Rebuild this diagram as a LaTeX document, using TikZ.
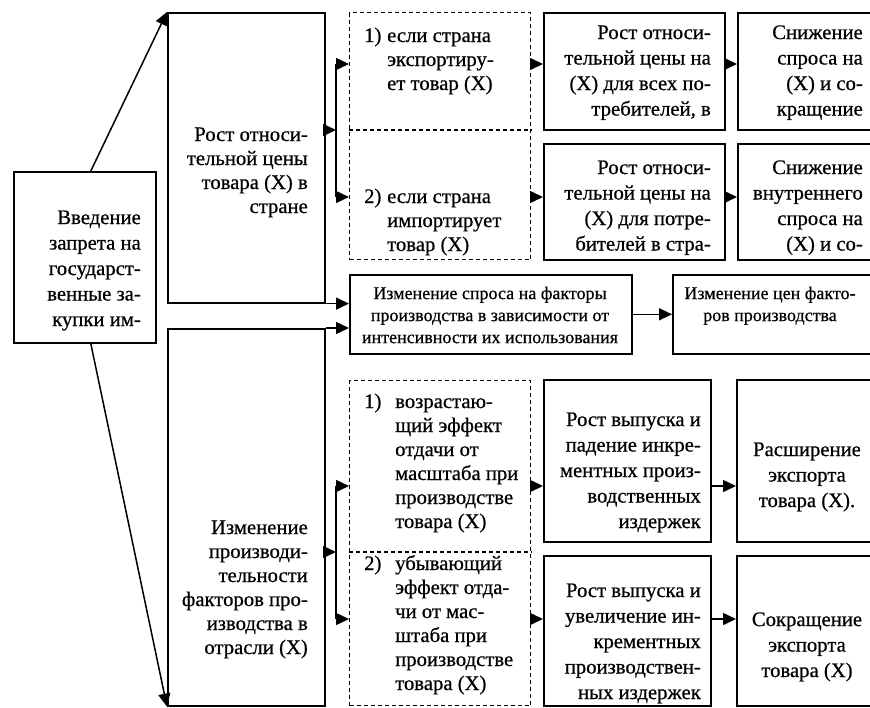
\documentclass[tikz,border=0pt]{standalone}
\usepackage{fontspec}
\setmainfont{Liberation Serif}[FakeBold=0.6]
\usetikzlibrary{arrows.meta, calc}

\begin{document}
\begin{tikzpicture}[
        x=1pt, y=-1pt,
        caja/.style={
            rectangle,
            draw,
            line width=1.6pt,
            inner sep=0pt,
            anchor=north west
        },
        cajadash/.style={
            caja,
            line width=1.3pt,
            dash pattern=on 4pt off 3pt
        },
        texto/.style={
            inner sep=0pt,
            font=\fontsize{20.7}{24}\selectfont
        },
        textoalto/.style={
            inner sep=0pt,
            font=\fontsize{20.7}{25.5}\selectfont
        },
        textochico/.style={
            inner sep=0pt,
            font=\fontsize{18}{22}\selectfont
        },
        flecha/.style={
            -{Triangle[length=13pt, width=12pt]},
            line width=1.5pt
        },
        linea/.style={
            line width=1.5pt
        }
    ]

    \useasboundingbox (0,0) rectangle (870,707);
    \clip (0,0) rectangle (870,707);

    % cajas
    \node[caja, minimum width=142pt, minimum height=171pt] (intro) at (13,171) {};
    \node[caja, minimum width=157pt, minimum height=290pt] (rise) at (167,12) {};
    \node[caja, minimum width=157pt, minimum height=377pt] (chg) at (167,328) {};

    \node[cajadash, minimum width=181pt, minimum height=247pt] (cond1) at (349,12) {};
    \node[caja, minimum width=181pt, minimum height=117pt] (cena1) at (543,12) {};
    \node[caja, minimum width=181pt, minimum height=116pt] (cena2) at (543,143) {};
    \node[caja, minimum width=200pt, minimum height=117pt] (snizh1) at (737,12) {};
    \node[caja, minimum width=200pt, minimum height=116pt] (snizh2) at (737,143) {};

    \node[caja, minimum width=282pt, minimum height=79pt] (spros) at (349,274) {};
    \node[caja, minimum width=220pt, minimum height=79pt] (ceny) at (672,274) {};

    \node[cajadash, minimum width=181pt, minimum height=325pt] (cond2) at (349,380) {};
    \node[caja, minimum width=167pt, minimum height=162pt] (vyp1) at (543,379) {};
    \node[caja, minimum width=167pt, minimum height=150pt] (vyp2) at (543,555) {};
    \node[caja, minimum width=200pt, minimum height=162pt] (rassh) at (736,379) {};
    \node[caja, minimum width=200pt, minimum height=150pt] (sokr) at (736,555) {};

    % textos
    \node[textoalto, align=right, anchor=north east] (tintro) at (141,206)
        {\strut Введение\\запрета на\\государст-\\венные за-\\купки им-};
    \node[texto, align=right, anchor=north east] (trise) at (308,124)
        {\strut Рост относи-\\тельной цены\\товара (X) в\\стране};
    \node[texto, align=right, anchor=north east] (tchg) at (308,517)
        {\strut Изменение\\производи-\\тельности\\факторов про-\\изводства в\\отрасли (X)};

    \node[texto, anchor=north west] (n1) at (364,25) {\strut 1)};
    \node[texto, align=left, anchor=north west] (texp) at (387,25)
        {\strut если страна\\экспортиру-\\ет товар (X)};
    \node[texto, anchor=north west] (n2) at (364,186) {\strut 2)};
    \node[texto, align=left, anchor=north west] (timp) at (387,186)
        {\strut если страна\\импортирует\\товар (X)};

    \node[textoalto, align=right, anchor=north east] (tcena1) at (711,21)
        {\strut Рост относи-\\тельной цены на\\(X) для всех по-\\требителей, в};
    \node[textoalto, align=right, anchor=north east] (tcena2) at (711,156)
        {\strut Рост относи-\\тельной цены на\\(X) для потре-\\бителей в стра-};
    \node[textoalto, align=right, anchor=north east] (tsnizh1) at (863,21)
        {\strut Снижение\\спроса на\\(X) и со-\\кращение};
    \node[textoalto, align=right, anchor=north east] (tsnizh2) at (863,156)
        {\strut Снижение\\внутреннего\\спроса на\\(X) и со-};

    \node[textochico, align=center, anchor=north] (tspros) at (490,283.5)
        {\strut Изменение спроса на факторы\\производства в зависимости от\\интенсивности их использования};
    \node[textochico, align=center, anchor=north] (tceny) at (770,283.5)
        {\strut Изменение цен факто-\\ров производства};

    \node[texto, anchor=north west] (n3) at (364,391) {\strut 1)};
    \node[texto, align=left, anchor=north west] (tincr) at (395,391)
        {\strut возрастаю-\\щий эффект\\отдачи от\\масштаба при\\производстве\\товара (X)};
    \node[texto, anchor=north west] (n4) at (364,553) {\strut 2)};
    \node[texto, align=left, anchor=north west] (tdecr) at (395,553)
        {\strut убывающий\\эффект отда-\\чи от мас-\\штаба при\\производстве\\товара (X)};

    \node[textoalto, align=right, anchor=north east] (tvyp1) at (701,408)
        {\strut Рост выпуска и\\падение инкре-\\ментных произ-\\водственных\\издержек};
    \node[textoalto, align=right, anchor=north east] (tvyp2) at (701,579)
        {\strut Рост выпуска и\\увеличение ин-\\крементных\\производствен-\\ных издержек};
    \node[textoalto, align=center, anchor=north] (trassh) at (807,438)
        {\strut Расширение\\экспорта\\товара (X).};
    \node[textoalto, align=center, anchor=north] (tsokr) at (807,608)
        {\strut Сокращение\\экспорта\\товара (X)};

    % puntos de las llaves
    \coordinate (br1t) at (336,64);
    \coordinate (br1m) at (336,130);
    \coordinate (br1b) at (336,197);
    \coordinate (br2t) at (336,486);
    \coordinate (br2m) at (336,552);
    \coordinate (br2b) at (336,619);

    % separadores
    \draw[linea, line width=1.3pt, dash pattern=on 4pt off 3pt] (cond1.west |- br1m) -- (cond1.east |- br1m);
    \draw[linea, line width=1.3pt, dash pattern=on 4pt off 3pt] (cond2.west |- br2m) -- (cond2.east |- br2m);

    % flechas
    \draw[flecha] ([xshift=6pt]intro.north) -- (rise.north west);
    \draw[flecha] ([xshift=6pt]intro.south) -- (chg.south west);

    \draw[flecha] (rise.east |- br1m) -- (br1m);
    \draw[linea] (br1t) -- (br1b);
    \draw[flecha] (br1t) -- (cond1.west |- br1t);
    \draw[flecha] (br1b) -- (cond1.west |- br1b);
    \draw[flecha] (cond1.east |- br1t) -- (cena1.west |- br1t);
    \draw[flecha] (cena1.east |- br1t) -- (snizh1.west |- br1t);
    \draw[flecha] (cond1.east |- br1b) -- (cena2.west |- br1b);
    \draw[flecha] (cena2.east |- br1b) -- (snizh2.west |- br1b);

    \draw[flecha] (rise.south east) -- (spros.west |- rise.south east);
    \draw[flecha] (chg.north east) -- (spros.west |- chg.north east);
    \draw[flecha] (spros) -- (ceny.west |- spros);

    \draw[flecha] (chg.east |- br2m) -- (br2m);
    \draw[linea] (br2t) -- (br2b);
    \draw[flecha] (br2t) -- (cond2.west |- br2t);
    \draw[flecha] (br2b) -- (cond2.west |- br2b);
    \draw[flecha] (cond2.east |- br2t) -- (vyp1.west |- br2t);
    \draw[flecha] (vyp1.east |- br2t) -- (rassh.west |- br2t);
    \draw[flecha] (cond2.east |- br2b) -- (vyp2.west |- br2b);
    \draw[flecha] (vyp2.east |- br2b) -- (sokr.west |- br2b);

    \end{tikzpicture}
\end{document}
